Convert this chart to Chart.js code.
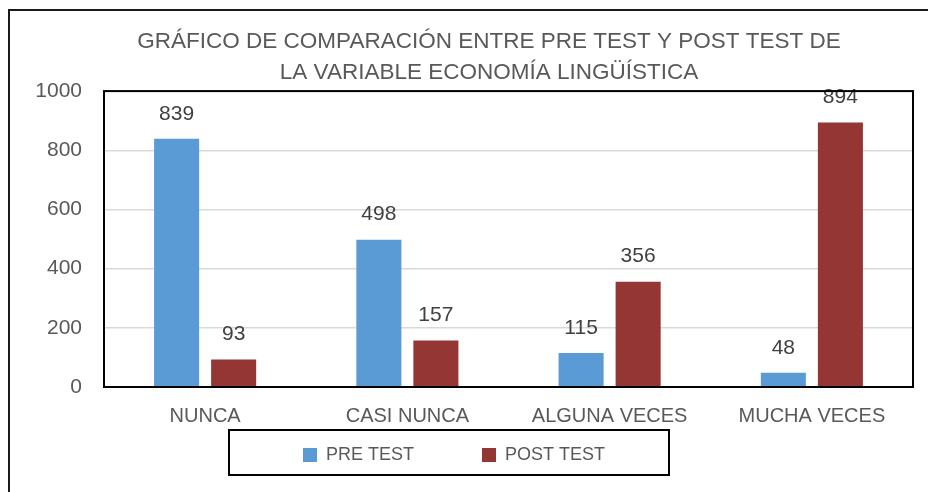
<!DOCTYPE html>
<html>
<head>
<meta charset="utf-8">
<script src="https://cdn.jsdelivr.net/npm/chart.js@4.4.1/dist/chart.umd.min.js"></script>
<style>
  html, body { margin: 0; padding: 0; background: #fff; }
  #wrap { width: 928px; height: 492px; }
</style>
</head>
<body>
<div id="wrap"><canvas id="chart"></canvas></div>
<script>
const categories = ['NUNCA', 'CASI NUNCA', 'ALGUNA VECES', 'MUCHA VECES'];
const preTest = [839, 498, 115, 48];
const postTest = [93, 157, 356, 894];
const yTicks = [0, 200, 400, 600, 800, 1000];
const seriesNames = ['PRE TEST', 'POST TEST'];
const titleLines = ['GRÁFICO DE COMPARACIÓN ENTRE PRE TEST Y POST TEST DE', 'LA VARIABLE ECONOMÍA LINGÜÍSTICA'];

const FONT = "'Liberation Sans', Arial, sans-serif";

// marcos, cuadro de leyenda y etiquetas de valor
const framePlugin = {
    id: 'frames',
    beforeDraw(chart) {
        const ctx = chart.ctx;
        ctx.save();
        ctx.fillStyle = '#fff';
        ctx.fillRect(0, 0, chart.width, chart.height);
        ctx.restore();
    },
    afterLayout(chart) {
        // centrar titulo y leyenda como en el original
        chart.titleBlock.left = 65;
        chart.titleBlock.right = 913;
        chart.legend.left = 239;
        chart.legend.right = 669;
    },
    afterDatasetsDraw(chart) {
        const ctx = chart.ctx;
        const a = chart.chartArea;
        ctx.save();
        ctx.font = '21px ' + FONT;
        ctx.fillStyle = '#404040';
        ctx.textAlign = 'center';
        ctx.textBaseline = 'middle';
        chart.data.datasets.forEach((ds, i) => {
            chart.getDatasetMeta(i).data.forEach((bar, j) => {
                ctx.fillText(ds.data[j], bar.x, bar.y - 25);
            });
        });
        ctx.strokeStyle = '#000';
        ctx.lineWidth = 2;
        ctx.strokeRect(a.left, a.top, a.right - a.left, a.bottom - a.top);
        ctx.restore();
    },
    afterDraw(chart) {
        const ctx = chart.ctx;
        ctx.save();
        ctx.strokeStyle = '#1a1a1a';
        ctx.lineWidth = 2;
        ctx.beginPath();
        ctx.moveTo(9, chart.height);
        ctx.lineTo(9, 10);
        ctx.lineTo(chart.width, 10);
        ctx.stroke();
        ctx.strokeStyle = '#000';
        ctx.strokeRect(229, 430, 440, 45);
        ctx.restore();
    }
};

new Chart(document.getElementById('chart'), {
    type: 'bar',
    data: {
        labels: categories,
        datasets: [
            { label: seriesNames[0], data: preTest, backgroundColor: '#5B9BD5', categoryPercentage: 0.564, barPercentage: 0.79 },
            { label: seriesNames[1], data: postTest, backgroundColor: '#943634', categoryPercentage: 0.564, barPercentage: 0.79 }
        ]
    },
    options: {
        responsive: true,
        maintainAspectRatio: false,
        animation: false,
        layout: { padding: { left: 10, right: 15, top: 26, bottom: 18 } },
        plugins: {
            title: {
                display: true,
                text: titleLines,
                color: '#595959',
                font: { family: FONT, size: 22.5, weight: 'normal', lineHeight: 1.38 },
                padding: { top: 0, bottom: 3 }
            },
            legend: {
                position: 'bottom',
                labels: {
                    color: '#595959',
                    font: { family: FONT, size: 18 },
                    boxWidth: 14,
                    boxHeight: 14,
                    padding: 13,
                    generateLabels(chart) {
                        const items = Chart.defaults.plugins.legend.labels.generateLabels(chart);
                        items[0].text = items[0].text + '           ';
                        return items;
                    }
                }
            },
            tooltip: { enabled: false }
        },
        scales: {
            x: {
                grid: { display: false, drawTicks: false },
                border: { display: false },
                ticks: { color: '#595959', font: { family: FONT, size: 20 }, padding: 17 },
                afterFit(scale) { scale.height = 46; }
            },
            y: {
                min: 0,
                max: 1000,
                grid: { color: '#d9d9d9', lineWidth: 1.5, drawTicks: false },
                border: { display: false },
                ticks: { color: '#595959', font: { family: FONT, size: 21 }, padding: 22, callback: v => String(v) },
                afterBuildTicks(scale) { scale.ticks = yTicks.map(v => ({ value: v })); },
                afterFit(scale) { scale.width = 94; }
            }
        }
    },
    plugins: [framePlugin]
});
</script>
</body>
</html>
